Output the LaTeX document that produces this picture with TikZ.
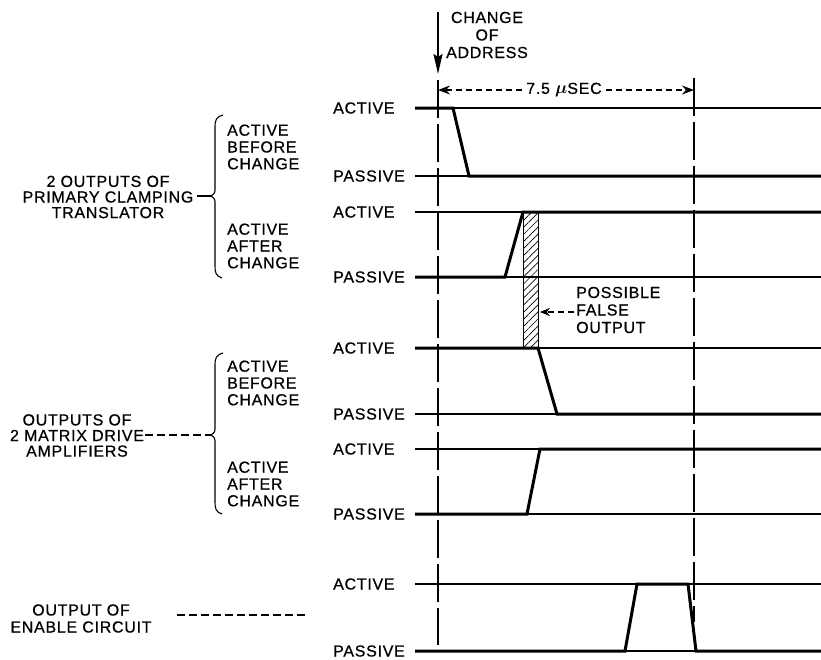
\documentclass[tikz,border=0pt]{standalone}
\usepackage{amsmath}
\usepackage{fontspec}
\setmainfont{Liberation Sans}[LetterSpace=4.5,FakeBold=0.6]
\usetikzlibrary{arrows.meta,patterns.meta}
\begin{document}
\begin{tikzpicture}[x=1pt,y=-1pt,
  lbl/.style={font=\fontsize{16}{16.8}\selectfont, inner sep=0pt},
  grp/.style={font=\fontsize{16}{15.6}\selectfont, inner sep=0pt, align=center},
  refline/.style={line width=1.1pt},
  sig/.style={line width=3pt},
  vdash/.style={line width=1.4pt, dash pattern=on 38pt off 6pt},
  bracel/.style={line width=1.1pt},
  shortdash/.style={line width=1.2pt, dash pattern=on 8pt off 4pt}]
\useasboundingbox (0,0) rectangle (821,659);
\fill[white] (0,0) rectangle (821,659);

% reference level lines
\foreach \y in {108,176,212,277,348,414,449,514,584,651}
  \draw[refline] (415,\y) -- (821,\y);

% vertical dashed time markers
\coordinate (tLtop) at (438,80);
\coordinate (tLbot) at (438,645);
\coordinate (tRtop) at (694,78);
\coordinate (tRbot) at (694,622);
\draw[vdash] (tLtop) -- (tLbot);
\draw[vdash] (tRtop) -- (tRbot);

% change of address
\node[lbl, align=center, font=\fontsize{16}{17.5}\selectfont] (coa) at (487,35) {CHANGE\\OF\\ADDRESS};
\coordinate (arrTop) at (438,12);
\coordinate (arrBot) at (438,74);
\draw[line width=2pt, -{Stealth[length=20pt,width=9pt,inset=3pt]}] (arrTop) -- (arrBot);

% dimension 7.5 usec
\coordinate (dimL) at (438,90);
\coordinate (dimR) at (694,90);
\draw[line width=1.2pt, dash pattern=on 6pt off 4pt,
  {Stealth[length=12pt,width=9pt]}-{Stealth[length=12pt,width=9pt]}] (dimL) -- (dimR);
\node[lbl, fill=white, inner xsep=0.5pt, inner ysep=1pt] (dim) at (564,90) {7.5 $\boldsymbol{\mu}$SEC};

% level labels
\foreach \y/\t in {108/ACTIVE,176/PASSIVE,212/ACTIVE,277/PASSIVE,348/ACTIVE,414/PASSIVE,449/ACTIVE,514/PASSIVE,584/ACTIVE,651/PASSIVE}
  \node[lbl, anchor=west] at (333,\y) {\t};

% hatched false output
\fill[pattern={Lines[angle=45,distance=5pt,line width=0.7pt]}] (523,212) rectangle (538,348);
\draw[line width=1pt] (523,212) rectangle (538,348);

% signal traces
\draw[sig] (415,108) -- (453,108) -- (469,176) -- (821,176);
\draw[sig] (415,277) -- (505,277) -- (523,212) -- (821,212);
\draw[sig] (415,348) -- (538,348) -- (557,414) -- (821,414);
\draw[sig] (415,514) -- (527,514) -- (540,449) -- (821,449);
\draw[sig] (415,651) -- (625,651) -- (637,584) -- (688,584) -- (696,651) -- (821,651);

% possible false output
\node[lbl, anchor=west, align=left, font=\fontsize{16}{17.5}\selectfont] (pfo) at (576,310) {POSSIBLE\\FALSE\\OUTPUT};
\coordinate (pfoTip) at (540,312);
\draw[line width=1.2pt, dash pattern=on 6pt off 4pt, -{Stealth[length=10pt,width=8pt]}] ([xshift=-2pt]pfo.west |- pfoTip) -- (pfoTip);

% brace labels
\node[lbl, anchor=west, align=left] (b1) at (227,147) {ACTIVE\\BEFORE\\CHANGE};
\node[lbl, anchor=west, align=left] (b2) at (227,246) {ACTIVE\\AFTER\\CHANGE};
\node[lbl, anchor=west, align=left] (b3) at (227,383) {ACTIVE\\BEFORE\\CHANGE};
\node[lbl, anchor=west, align=left] (b4) at (227,484) {ACTIVE\\AFTER\\CHANGE};

% braces
\draw[bracel] (223,115) .. controls (216,117) and (215,120) .. (215,128) -- (215,188)
  .. controls (215,193) .. (211,196) coordinate (br1) .. controls (215,199) .. (215,204)
  -- (215,266) .. controls (215,273) and (216,276) .. (222,278);
\draw[bracel] (223,353) .. controls (216,355) and (215,358) .. (215,366) -- (215,427)
  .. controls (215,432) .. (211,435) coordinate (br2) .. controls (215,438) .. (215,443)
  -- (215,502) .. controls (215,509) and (216,512) .. (222,514);

% group labels
\node[grp] (pct) at (108,197) {2 OUTPUTS OF\\PRIMARY CLAMPING\\TRANSLATOR};
\draw[line width=1.2pt] ([xshift=3pt]pct.east |- br1) -- (br1);
\node[grp] (mda) at (77,435.5) {OUTPUTS OF\\2 MATRIX DRIVE\\AMPLIFIERS};
\draw[shortdash] ([xshift=1pt]mda.east |- br2) -- (br2);
\node[grp, font=\fontsize{16}{17}\selectfont] (enc) at (81,618.5) {OUTPUT OF\\ENABLE CIRCUIT};
\coordinate (encA) at (177,615);
\coordinate (encB) at (307,615);
\draw[shortdash] (encA) -- (encB);
\end{tikzpicture}
\end{document}
